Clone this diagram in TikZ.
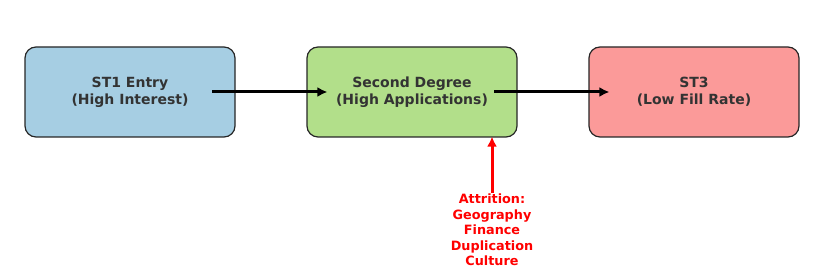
\documentclass[tikz,border=0pt]{standalone}
\usepackage{fontspec}
\setmainfont{DejaVu Sans}
\usetikzlibrary{arrows.meta,calc}

\definecolor{stblue}{HTML}{A6CEE3}
\definecolor{stgreen}{HTML}{B2DF8A}
\definecolor{stred}{HTML}{FB9A99}
\definecolor{txtgray}{HTML}{333333}

\begin{document}
\begin{tikzpicture}[
  x=1pt, y=1pt, font=\bfseries\fontsize{14}{17}\selectfont,
  stage/.style ={draw=black!85,line width=1.2pt,rounded corners=11pt,
                 minimum width=210pt,minimum height=90pt,align=center,text=txtgray},
  flow/.style  ={draw,-{Latex[length=10pt,width=10pt]},line width=3pt},
  loss/.style  ={draw=red,-{Latex[length=10pt,width=10pt]},line width=3pt},
  losstxt/.style={text=red,align=center,inner sep=1pt,
                  font=\bfseries\fontsize{12.8}{15.5}\selectfont},
]
\useasboundingbox (0,0) rectangle (825,278);

% ----------------------------------------------------------- the three stages
\node[stage,fill=stblue]  (st1) at (130, 186) {ST1 Entry\\(High Interest)};
\node[stage,fill=stgreen] (deg) at (412, 186) {Second Degree\\(High Applications)};
\node[stage,fill=stred]   (st3) at (694, 186) {ST3\\(Low Fill Rate)};

\draw[flow] ($(st1.center)+(82,0)$) -- ($(deg.west)+(21,0)$);
\draw[flow] ($(deg.center)+(82,0)$) -- ($(st3.west)+(21,0)$);

% ----------------------------------------------------------- attrition
\node[losstxt,anchor=north] (att) at (492, 85)
  {Attrition:\\Geography\\Finance\\Duplication\\Culture};
\draw[loss] (att.north) -- ($(deg.south)+(80,1)$);

\end{tikzpicture}
\end{document}
